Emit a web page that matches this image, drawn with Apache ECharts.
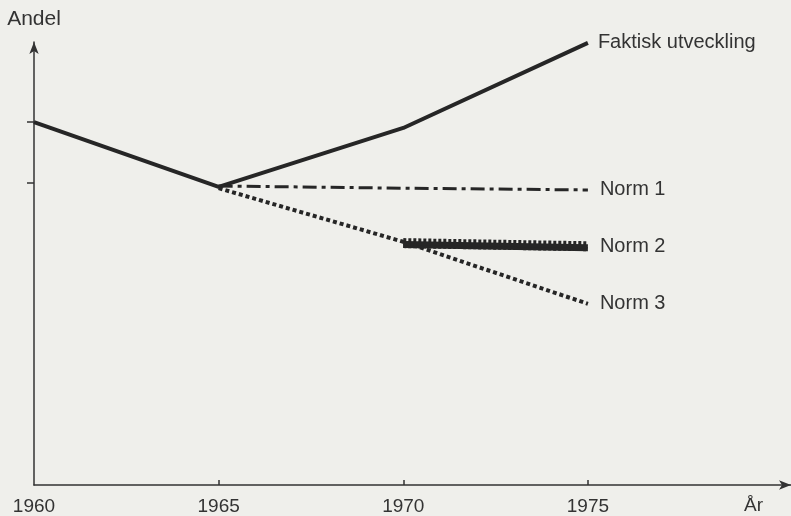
<!DOCTYPE html>
<html>
<head>
<meta charset="utf-8">
<script src="https://cdn.jsdelivr.net/npm/echarts@6/dist/echarts.min.js"></script>
<style>
html,body{margin:0;padding:0;background:#efefeb;}
#c{width:791px;height:516px;}
</style>
</head>
<body>
<div id="c"></div>
<script>
// Data (y in arbitrary "Andel" units, 0..100)
const years = [1960, 1965, 1970, 1975];
const faktisk = [81.9, 67.3, 80.6, 99.8];
const norm1 = [null, 67.5, 67.0, 66.6];
const norm2 = [null, null, 54.6, 53.9];
const norm3 = [null, 67.0, 54.9, 40.9];
const xTickLabels = [1960, 1965, 1970, 1975];
const xTicks = [1965, 1970, 1975];
const yTicks = [81.9, 68.2];
const seriesNames = ['Faktisk utveckling', 'Norm 1', 'Norm 2', 'Norm 3'];

function pairs(vals) {
  return years.map((y, i) => [y, vals[i]]).filter(p => p[1] !== null);
}

const ink = '#262626';
const font = 'Liberation Sans';

const chart = echarts.init(document.getElementById('c'), null, {renderer: 'canvas'});
chart.setOption({
  backgroundColor: '#efefeb',
  animation: false,
  grid: {left: 34, right: 0, top: 42, bottom: 31, containLabel: false},
  xAxis: {
    type: 'value', min: 1960, max: 1980.5,
    axisLine: {show: true, symbol: ['none', 'arrow'], symbolSize: [7, 12],
      lineStyle: {color: '#333', width: 1.5}},
    axisTick: {show: true, inside: true, length: 5, customValues: xTicks,
      lineStyle: {color: '#333', width: 1.5}},
    axisLabel: {customValues: xTickLabels, margin: 12, color: '#333',
      fontFamily: font, fontSize: 19, formatter: v => String(v)},
    splitLine: {show: false}
  },
  yAxis: {
    type: 'value', min: 0, max: 100,
    name: 'Andel', nameLocation: 'end', nameGap: 12,
    nameTextStyle: {color: '#333', fontFamily: font, fontSize: 21, align: 'center'},
    axisLine: {show: true, symbol: ['none', 'arrow'], symbolSize: [7, 12],
      lineStyle: {color: '#333', width: 1.5}},
    axisTick: {show: true, inside: false, length: 7, customValues: yTicks,
      lineStyle: {color: '#333', width: 1.5}},
    axisLabel: {show: false},
    splitLine: {show: false}
  },
  graphic: [{
    type: 'text', left: 744, top: 496,
    style: {text: 'År', fill: '#333', font: '19px "Liberation Sans"'}
  }],
  series: [
    {
      name: seriesNames[0], type: 'line', data: pairs(faktisk),
      symbol: 'none', silent: true,
      lineStyle: {color: ink, width: 4},
      endLabel: {show: true, formatter: '{a}', distance: 10, color: '#333',
        fontFamily: font, fontSize: 20}
    },
    {
      name: seriesNames[1], type: 'line', data: pairs(norm1),
      symbol: 'none', silent: true,
      lineStyle: {color: ink, width: 3, type: [14, 5, 4, 5], cap: 'butt'},
      endLabel: {show: true, formatter: '{a}', distance: 12, color: '#333',
        fontFamily: font, fontSize: 20}
    },
    {
      name: seriesNames[2] + ' teeth', type: 'line', data: pairs(norm2),
      symbol: 'none', silent: true,
      lineStyle: {color: ink, width: 10, type: [3, 2], cap: 'butt'}
    },
    {
      name: seriesNames[2], type: 'line', data: pairs(norm2),
      symbol: 'none', silent: true,
      lineStyle: {color: ink, width: 4, shadowColor: ink, shadowBlur: 0, shadowOffsetY: 3},
      endLabel: {show: true, formatter: '{a}', distance: 12, color: '#333',
        fontFamily: font, fontSize: 20}
    },
    {
      name: seriesNames[3], type: 'line', data: pairs(norm3),
      symbol: 'none', silent: true,
      lineStyle: {color: ink, width: 4, type: [4, 3], cap: 'butt'},
      endLabel: {show: true, formatter: '{a}', distance: 12, color: '#333',
        fontFamily: font, fontSize: 20}
    }
  ]
});
</script>
</body>
</html>
